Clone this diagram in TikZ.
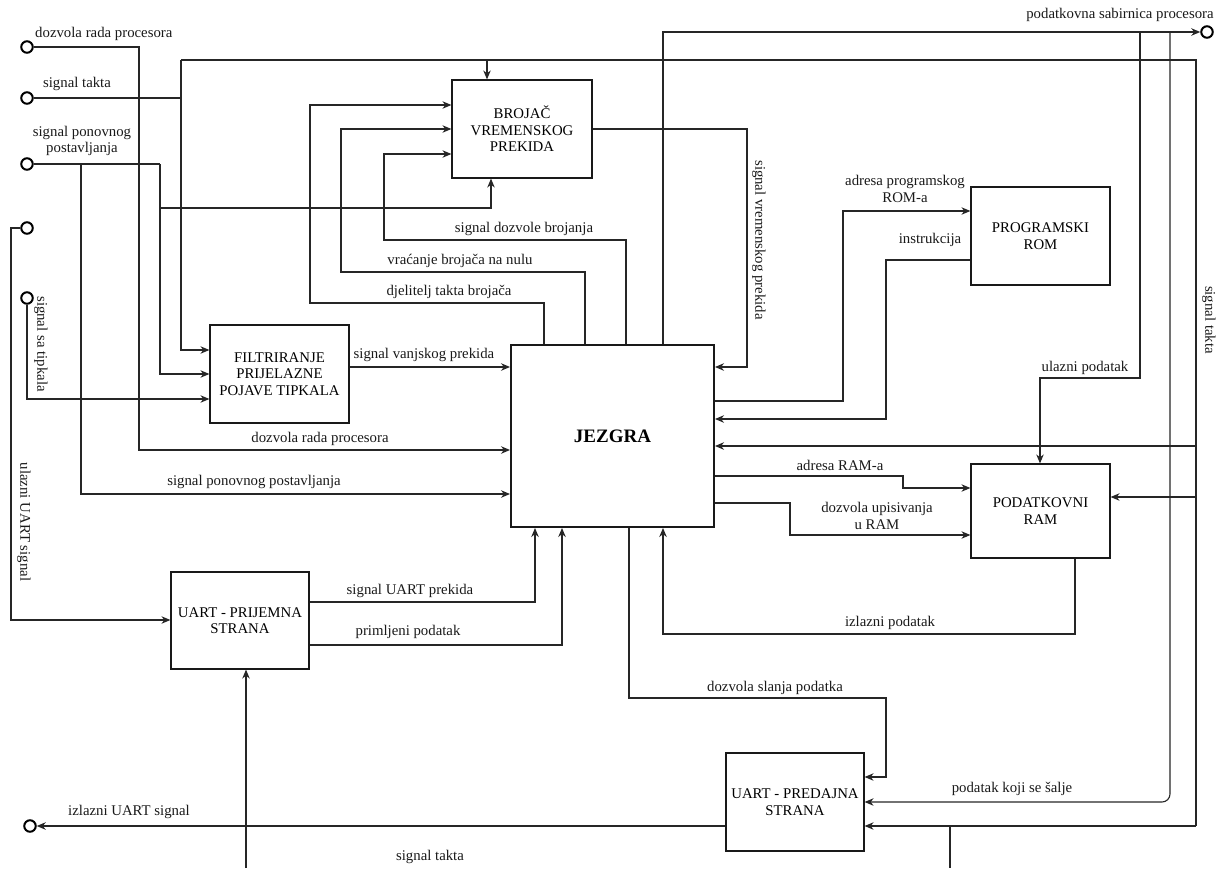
\documentclass[tikz,border=0pt]{standalone}
\usepackage{fontspec}
\setmainfont{Liberation Serif}
\usetikzlibrary{arrows.meta}
\begin{document}
\begin{tikzpicture}[x=1pt,y=-1pt,
  ln/.style={line width=1.1pt, draw=black!85},
  arr/.style={ln, -{Stealth[length=9pt,width=7.5pt]}},
  box/.style={draw=black!90, line width=1.2pt, inner sep=2pt, align=center, font=\fontsize{14.8}{16.5}\selectfont},
  lbl/.style={font=\fontsize{14.8}{16.5}\selectfont, inner sep=0pt, align=center, text=black!90},
  term/.style={circle, draw=black, line width=2pt, minimum size=11.5pt, inner sep=0pt}]
\useasboundingbox (0,0) rectangle (1224,868);

% blocks
\node[box, minimum width=140pt, minimum height=98pt] (broj) at (522,129) {BROJAČ\\VREMENSKOG\\PREKIDA};
\node[box, minimum width=139pt, minimum height=98pt] (rom) at (1040.5,236) {PROGRAMSKI\\ROM};
\node[box, minimum width=139pt, minimum height=98pt] (filt) at (279.5,374) {FILTRIRANJE\\PRIJELAZNE\\POJAVE TIPKALA};
\node[box, line width=2pt, minimum width=203pt, minimum height=182pt, font=\fontsize{19}{21}\bfseries] (jez) at (612.5,436) {JEZGRA};
\node[box, minimum width=139pt, minimum height=94pt] (ram) at (1040.5,511) {PODATKOVNI\\RAM};
\node[box, minimum width=138pt, minimum height=97pt] (prij) at (240,620.5) {UART - PRIJEMNA\\STRANA};
\node[box, minimum width=138pt, minimum height=98pt] (pred) at (795,802) {UART - PREDAJNA\\STRANA};

% terminals
\node[term] (t1) at (27,47) {};
\node[term] (t2) at (27,98) {};
\node[term] (t3) at (27,164) {};
\node[term] (t4) at (27,228) {};
\node[term] (t5) at (27,298) {};
\node[term] (tL) at (30,826) {};
\node[term] (tR) at (1207,32) {};

% dozvola rada procesora
\draw[arr] (t1.east) -- (139,47) -- (139,450) -- (jez.west |- 0,450);
% signal takta
\draw[ln] (t2.east) -- (181,98);
\draw[arr] (181,60) -- (181,350) -- (filt.west |- 0,350);
\draw[ln] (181,60) -- (1196,60) -- (1196,826);
\draw[arr] (487,60) -- (broj.north -| 487,0);
\draw[arr] (1196,826) -- (pred.east |- 0,826);
\draw[arr] (1196,446) -- (jez.east |- 0,446);
\draw[arr] (1196,497) -- (ram.east |- 0,497);
\draw[arr] (246,868) -- (prij.south -| 246,0);
\draw[ln] (950,826) -- (950,868);
% signal ponovnog postavljanja
\draw[ln] (t3.east) -- (160,164);
\draw[arr] (81,164) -- (81,494) -- (jez.west |- 0,494);
\draw[arr] (160,164) -- (160,374) -- (filt.west |- 0,374);
\draw[arr] (160,208) -- (491,208) -- (broj.south -| 491,0);
% ulazni UART signal
\draw[arr] (t4.west) -- (11,228) -- (11,620) -- (prij.west |- 0,620);
% signal sa tipkala
\draw[arr] (t5.south) -- (27,399) -- (filt.west |- 0,399);
% counter control
\draw[arr] (jez.north -| 544,0) -- (544,303) -- (310,303) -- (310,105) -- (broj.west |- 0,105);
\draw[arr] (jez.north -| 585,0) -- (585,272) -- (341,272) -- (341,129) -- (broj.west |- 0,129);
\draw[arr] (jez.north -| 626,0) -- (626,240) -- (384,240) -- (384,154) -- (broj.west |- 0,154);
% data bus
\draw[arr] (jez.north -| 663,0) -- (663,32) -- (tR.west);
\draw[arr] (1140,32) -- (1140,378) -- (1040,378) -- (ram.north -| 1040,0);
\draw[arr, rounded corners=8pt] (1170,32) -- (1170,802) -- (pred.east |- 0,802);
% timer interrupt
\draw[arr] (broj.east |- 0,129) -- (747,129) -- (747,367) -- (jez.east |- 0,367);
% ROM
\draw[arr] (jez.east |- 0,401) -- (843,401) -- (843,211) -- (rom.west |- 0,211);
\draw[arr] (rom.west |- 0,260) -- (886,260) -- (886,419) -- (jez.east |- 0,419);
% RAM
\draw[arr] (jez.east |- 0,476) -- (903,476) -- (903,488) -- (ram.west |- 0,488);
\draw[arr] (jez.east |- 0,503) -- (790,503) -- (790,535) -- (ram.west |- 0,535);
\draw[arr] (ram.south -| 1075,0) -- (1075,634) -- (663,634) -- (jez.south -| 663,0);
% UART RX
\draw[arr] (prij.east |- 0,602) -- (535,602) -- (jez.south -| 535,0);
\draw[arr] (prij.east |- 0,645) -- (562,645) -- (jez.south -| 562,0);
% UART TX
\draw[arr] (jez.south -| 629,0) -- (629,698) -- (886,698) -- (886,777) -- (pred.east |- 0,777);
\draw[arr] (pred.west |- 0,826) -- (tL.east);
% external interrupt
\draw[arr] (filt.east |- 0,367) -- (jez.west |- 0,367);

% labels
\node[lbl, anchor=west] (L1) at (35,34) {dozvola rada procesora};
\node[lbl] (L2) at (77,84) {signal takta};
\node[lbl] (L3) at (82,141) {signal ponovnog\\postavljanja};
\node[lbl] (L4) at (1120,15) {podatkovna sabirnica procesora};
\node[lbl] (L5) at (524,229) {signal dozvole brojanja};
\node[lbl] (L6) at (460,261) {vraćanje brojača na nulu};
\node[lbl] (L7) at (449,292) {djelitelj takta brojača};
\node[lbl] (L8) at (424,355) {signal vanjskog prekida};
\node[lbl] (L9) at (320,439) {dozvola rada procesora};
\node[lbl] (L10) at (254,482) {signal ponovnog postavljanja};
\node[lbl] (L11) at (410,591) {signal UART prekida};
\node[lbl] (L12) at (408,632) {primljeni podatak};
\node[lbl] (L13) at (890,623) {izlazni podatak};
\node[lbl] (L14) at (775,688) {dozvola slanja podatka};
\node[lbl] (L15) at (1012,789) {podatak koji se šalje};
\node[lbl] (L16) at (129,812) {izlazni UART signal};
\node[lbl] (L17) at (430,857) {signal takta};
\node[lbl] (L18) at (1085,368) {ulazni podatak};
\node[lbl] (L19) at (930,240) {instrukcija};
\node[lbl] (L20) at (905,189) {adresa programskog\\ROM-a};
\node[lbl] (L21) at (840,465) {adresa RAM-a};
\node[lbl] (L22) at (877,516) {dozvola upisivanja\\u RAM};
\node[lbl, rotate=-90] (L23) at (759,240) {signal vremenskog prekida};
\node[lbl, rotate=-90] (L24) at (1209,320) {signal takta};
\node[lbl, rotate=-90] (L25) at (41,344) {signal sa tipkala};
\node[lbl, rotate=-90] (L26) at (24,522) {ulazni UART signal};
\end{tikzpicture}
\end{document}
